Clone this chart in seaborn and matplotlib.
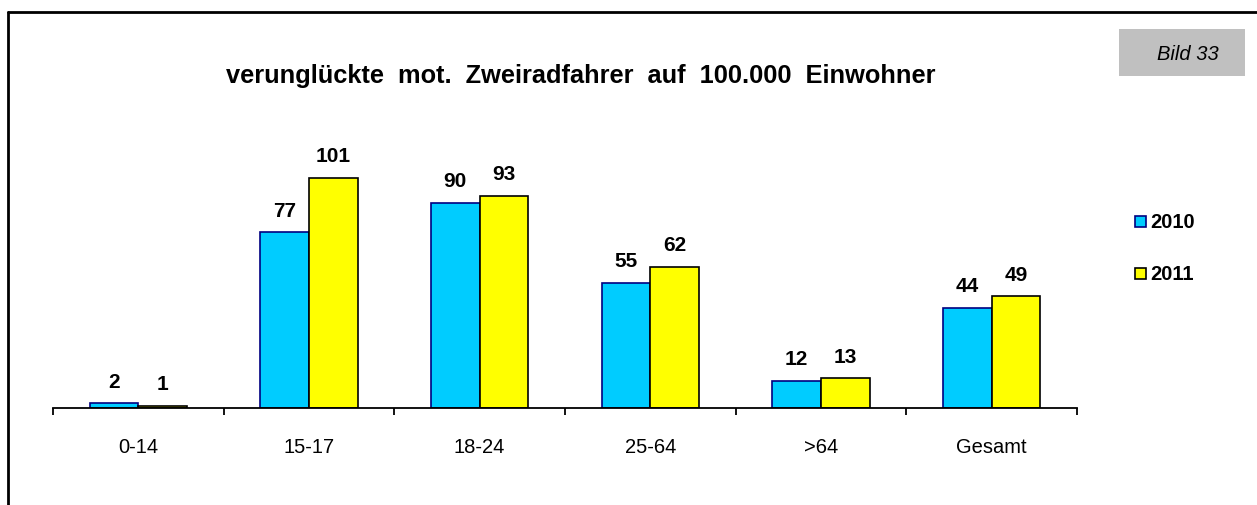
import matplotlib
matplotlib.use("Agg")
import matplotlib.pyplot as plt
from matplotlib.lines import Line2D
from matplotlib.patches import Rectangle
import seaborn as sns
import pandas as pd

# Verunglückte motorisierte Zweiradfahrer je 100.000 Einwohner nach Altersgruppe
altersgruppen = ["0-14", "15-17", "18-24", "25-64", ">64", "Gesamt"]
werte_2010 = [2, 77, 90, 55, 12, 44]
werte_2011 = [1, 101, 93, 62, 13, 49]
jahre = ["2010", "2011"]

df = pd.DataFrame({
    "Altersgruppe": altersgruppen * 2,
    "Wert": werte_2010 + werte_2011,
    "Jahr": [jahre[0]] * len(altersgruppen) + [jahre[1]] * len(altersgruppen),
})

sns.set_theme(style="white")
plt.rcParams["font.family"] = ["Liberation Sans", "DejaVu Sans"]

fuell = {"2010": "#00CCFF", "2011": "#FFFF00"}
kanten = {"2010": "#000080", "2011": "#000000"}

fig = plt.figure(figsize=(12.57, 5.06), dpi=100)
ax = fig.add_axes([53 / 1257, 97 / 506, 1024 / 1257, 251 / 506])

sns.barplot(data=df, x="Altersgruppe", y="Wert", hue="Jahr", order=altersgruppen,
            hue_order=jahre, palette=fuell, width=0.57, saturation=1,
            linewidth=1.2, ax=ax, legend=False)

for cont, jahr in zip(ax.containers, jahre):
    for bar in cont:
        bar.set_edgecolor(kanten[jahr])
    ax.bar_label(cont, fmt="%d", padding=9, fontsize=15, fontweight="bold",
                 color="black")

ax.set_xlim(-0.5, len(altersgruppen) - 0.5)
ax.set_ylim(0, 110)
for side in ["left", "right", "top"]:
    ax.spines[side].set_visible(False)
ax.spines["bottom"].set_color("black")
ax.spines["bottom"].set_linewidth(1.3)
ax.set_yticks([])
ax.set_xlabel("")
ax.set_ylabel("")

# category boundaries carry the tick marks, labels sit at the centres
ax.set_xticks([i - 0.5 for i in range(len(altersgruppen) + 1)])
ax.set_xticklabels([])
ax.set_xticks(range(len(altersgruppen)), minor=True)
ax.set_xticklabels(altersgruppen, minor=True, fontsize=14.5)
ax.tick_params(axis="x", which="major", direction="out", length=5, width=1.3,
               color="black", bottom=True)
ax.tick_params(axis="x", which="minor", length=0, pad=21, labelcolor="black")

fig.text(581 / 1257, 1 - 83 / 506,
         "verunglückte  mot.  Zweiradfahrer  auf  100.000  Einwohner",
         ha="center", va="baseline", fontsize=18.3, fontweight="bold", color="black")

# legend
for i, jahr in enumerate(jahre):
    y = 1 - (222 + i * 52) / 506
    fig.patches.append(Rectangle((1135 / 1257, y - 6 / 506), 11 / 1257, 11 / 506,
                                 transform=fig.transFigure, facecolor=fuell[jahr],
                                 edgecolor=kanten[jahr], linewidth=1.2))
    fig.text(1150 / 1257, y, jahr, ha="left", va="center", fontsize=14.5,
             fontweight="bold", color="black")

# figure number box
fig.patches.append(Rectangle((1119 / 1257, 1 - 77 / 506), 126 / 1257, 47 / 506,
                             transform=fig.transFigure, facecolor="#C0C0C0",
                             edgecolor="none"))
fig.text(1188 / 1257, 1 - 54 / 506, "Bild 33", ha="center", va="center",
         fontsize=14.5, style="italic", color="black")

# outer frame (left and top edges)
fig.lines.append(Line2D([8 / 1257, 8 / 1257], [0, 1 - 13 / 506],
                        transform=fig.transFigure, color="black", linewidth=2))
fig.lines.append(Line2D([8 / 1257, 1], [1 - 13 / 506, 1 - 13 / 506],
                        transform=fig.transFigure, color="black", linewidth=2))

fig.savefig("out.png", dpi=100, facecolor="white")
